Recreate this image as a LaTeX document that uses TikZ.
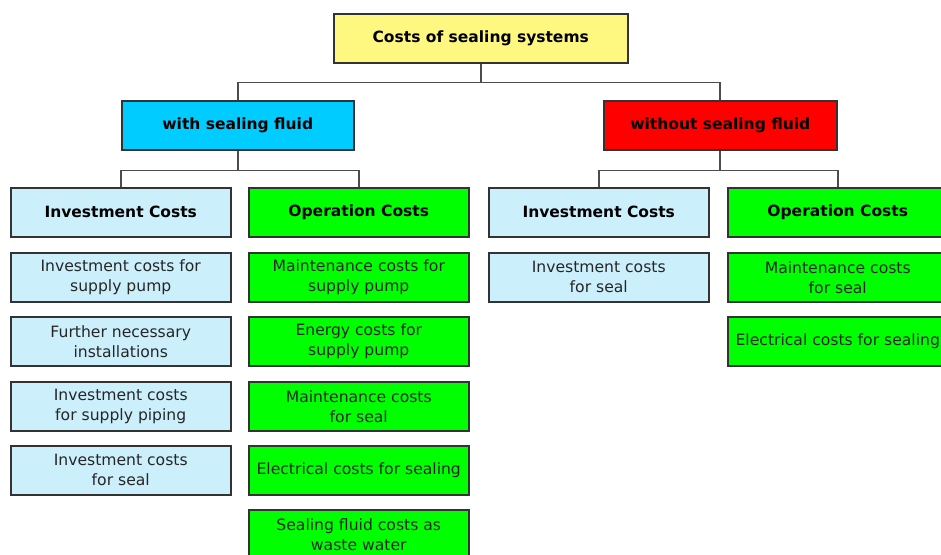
\documentclass[tikz,border=0pt]{standalone}
\usepackage{fontspec}
\setmainfont{DejaVu Sans}
\begin{document}
\begin{tikzpicture}[x=1pt,y=-1pt,
  box/.style={draw=black!80, line width=1.5pt, anchor=north west, align=center,
    minimum width=220pt, minimum height=49pt, inner sep=0pt,
    font=\fontsize{15.6}{20}\selectfont, text=black!85},
  head/.style={box, font=\fontsize{15.5}{20}\selectfont\bfseries, text=black},
  conn/.style={draw=black!70, line width=1.8pt},
  invc/.style={fill=cyan!20},
  opc/.style={fill=green}]
\useasboundingbox (0,0) rectangle (941,554);
\clip (0,0) rectangle (941,554);
% top
\node[head, fill=yellow!50, minimum width=294pt] (top) at (333,13) {Costs of sealing systems};
\node[head, fill={rgb,255:red,0;green,204;blue,255}, minimum width=232pt] (with) at (121,100) {with sealing fluid};
\node[head, fill=red, minimum width=233pt] (without) at (603,100) {without sealing fluid};
% level 3
\node[head, invc] (li) at (10,187) {Investment Costs};
\node[head, opc] (lo) at (248,187) {Operation Costs};
\node[head, invc] (ri) at (488,187) {Investment Costs};
\node[head, opc] (ro) at (727,187) {Operation Costs};
% left investment leaves
\node[box, invc] (li1) at (10,252) {Investment costs for\\supply pump};
\node[box, invc] (li2) at (10,316) {Further necessary\\installations};
\node[box, invc] (li3) at (10,381) {Investment costs\\for supply piping};
\node[box, invc] (li4) at (10,445) {Investment costs\\for seal};
% left operation leaves
\node[box, opc] (lo1) at (248,252) {Maintenance costs for\\supply pump};
\node[box, opc] (lo2) at (248,316) {Energy costs for\\supply pump};
\node[box, opc] (lo3) at (248,381) {Maintenance costs\\for seal};
\node[box, opc] (lo4) at (248,445) {Electrical costs for sealing};
\node[box, opc] (lo5) at (248,509) {Sealing fluid costs as\\waste water};
% right leaves
\node[box, invc] (ri1) at (488,252) {Investment costs\\for seal};
\node[box, opc] (ro1) at (727,252) {Maintenance costs\\for seal};
\node[box, opc] (ro2) at (727,316) {Electrical costs for sealing};
% connectors
\draw[conn] (top.south) -- ++(0,19) coordinate (j0);
\draw[conn] (j0) -| (with.north);
\draw[conn] (j0) -| (without.north);
\draw[conn] (with.south) -- ++(0,20) coordinate (j1);
\draw[conn] (j1) -| (li.north);
\draw[conn] (j1) -| (lo.north);
\draw[conn] (without.south) -- ++(0,20) coordinate (j2);
\draw[conn] (j2) -| (ri.north);
\draw[conn] (j2) -| (ro.north);
\end{tikzpicture}
\end{document}
